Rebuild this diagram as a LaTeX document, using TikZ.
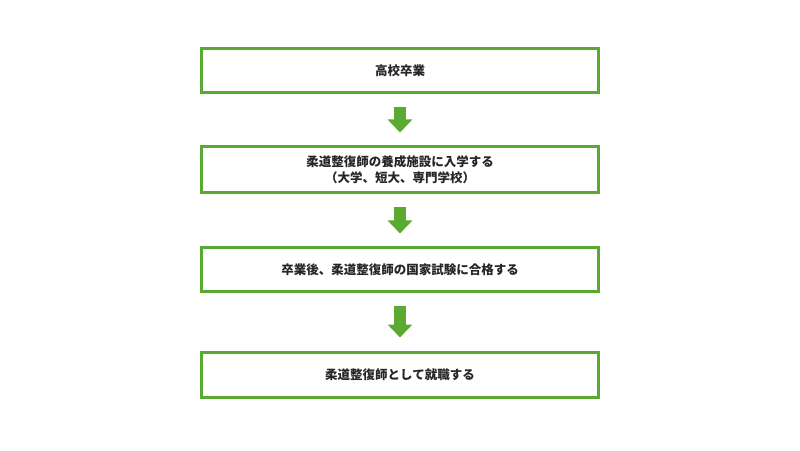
\documentclass[tikz,border=0pt]{standalone}
\usepackage{fontspec}
\newfontfamily\jp{Noto Sans CJK JP}
\usetikzlibrary{arrows.meta}
\definecolor{gr}{HTML}{5AAA32}
\tikzset{box/.style={draw=gr,line width=3pt,minimum width=397pt,inner sep=0pt,font=\jp\bfseries\fontsize{12.5pt}{16pt}\selectfont,text=black!85,align=center},
flow/.style={draw=gr,line width=12pt,-{Triangle[width=24pt,length=13pt]},shorten >=13pt,shorten <=13pt}}
\begin{document}
\begin{tikzpicture}[x=1pt,y=1pt]
\useasboundingbox (0,0) rectangle (800,450);
\node[box,minimum height=44pt] (b1) at (400,379) {高校卒業};
\node[box,minimum height=46pt] (b2) at (400,280) {柔道整復師の養成施設に入学する\\（大学、短大、専門学校）};
\node[box,minimum height=44pt] (b3) at (400,180) {卒業後、柔道整復師の国家試験に合格する};
\node[box,minimum height=45pt] (b4) at (400,75.5) {柔道整復師として就職する};
\draw[flow] (b1) -- (b2);
\draw[flow] (b2) -- (b3);
\draw[flow] (b3) -- (b4);
\end{tikzpicture}
\end{document}
